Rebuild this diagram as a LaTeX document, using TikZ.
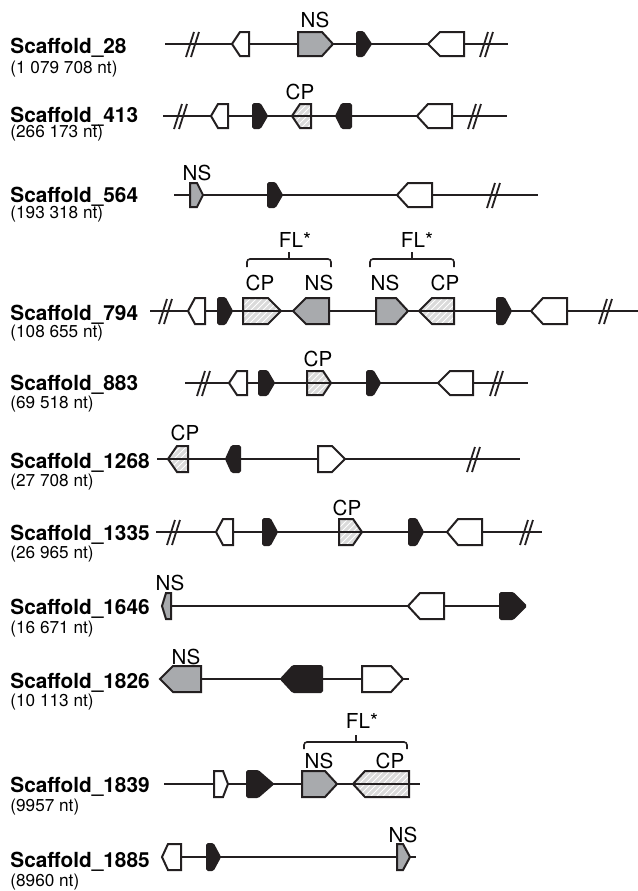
\documentclass[tikz,border=0pt]{standalone}
\usepackage{fontspec}
\setmainfont{TeX Gyre Heros}
\usetikzlibrary{positioning, patterns}
\definecolor{ink}{RGB}{35,31,32}
\definecolor{nsgray}{RGB}{168,170,173}
\definecolor{cpgray}{RGB}{218,218,218}

\begin{document}
\begin{tikzpicture}[x=0.5pt, y=-0.5pt,
    scaf/.style={font=\fontsize{10.4}{12}\selectfont\bfseries, inner sep=0pt, anchor=base west},
    len/.style={font=\fontsize{8.6}{10}\selectfont, inner sep=0pt, anchor=base west},
    tag/.style={font=\fontsize{10.3}{12}\selectfont, inner sep=0pt},
    dna/.style={draw=ink, line width=1pt},
    cut/.style={draw=ink, line width=0.9pt},
    brace/.style={draw=ink, line width=0.8pt, rounded corners=1.5pt},
    gene/.style={draw=ink, line width=1pt, line join=miter},
    plain/.style={gene, fill=white},
    ns/.style={gene, fill=nsgray},
    orf/.style={gene, fill=ink, rounded corners=0.6pt},
    cp/.style={gene, preaction={fill=cpgray}, pattern=north east lines, pattern color=white}]

    \useasboundingbox (0,0) rectangle (638,891);

    % scaffold names and lengths
    \node[scaf] (n28) at (10,53) {Scaffold\_28};
    \node[len, below=10pt of n28.base west, anchor=base west] (l28) {(1 079 708 nt)};
    \node[scaf] (n413) at (10,122) {Scaffold\_413};
    \node[len, below=7.5pt of n413.base west, anchor=base west] (l413) {(266 173 nt)};
    \node[scaf] (n564) at (10,202) {Scaffold\_564};
    \node[len, below=8pt of n564.base west, anchor=base west] (l564) {(193 318 nt)};
    \node[scaf] (n794) at (10,320) {Scaffold\_794};
    \node[len, below=8.5pt of n794.base west, anchor=base west] (l794) {(108 655 nt)};
    \node[scaf] (n883) at (10,390) {Scaffold\_883};
    \node[len, below=9pt of n883.base west, anchor=base west] (l883) {(69 518 nt)};
    \node[scaf] (n1268) at (10,468) {Scaffold\_1268};
    \node[len, below=9pt of n1268.base west, anchor=base west] (l1268) {(27 708 nt)};
    \node[scaf] (n1335) at (10,540) {Scaffold\_1335};
    \node[len, below=9pt of n1335.base west, anchor=base west] (l1335) {(26 965 nt)};
    \node[scaf] (n1646) at (10,614) {Scaffold\_1646};
    \node[len, below=9.5pt of n1646.base west, anchor=base west] (l1646) {(16 671 nt)};
    \node[scaf] (n1826) at (10,688) {Scaffold\_1826};
    \node[len, below=9pt of n1826.base west, anchor=base west] (l1826) {(10 113 nt)};
    \node[scaf] (n1839) at (10,792) {Scaffold\_1839};
    \node[len, below=9.5pt of n1839.base west, anchor=base west] (l1839) {(9957 nt)};
    \node[scaf] (n1885) at (10,867) {Scaffold\_1885};
    \node[len, below=9.5pt of n1885.base west, anchor=base west] (l1885) {(8960 nt)};

    % hatched genes go under the line
    \foreach \t/\s/\b/\y/\h in {292/300/311/116/12, 281/268/243/311/13, 419/432/454/311/13,
            331/323/307/383/12, 168/177/188/459/13, 362/353/339/532/13, 353/365/409/784/13}
        \draw[cp] (\t,\y) -- (\s,\y-\h) -- (\b,\y-\h) -- (\b,\y+\h) -- (\s,\y+\h) -- cycle;

    % backbones
    \foreach \a/\e/\y in {165/508/44, 163/507/116, 174/538/195, 150/638/311, 185/528/383,
            157/520/459, 156/542/532, 162/500/606, 160/409/679, 164/420/784, 162/416/857}
        \draw[dna] (\a,\y) -- (\e,\y);

    % breaks
    \foreach \c/\y in {192/44, 486/44, 180/116, 474/116, 493/195, 165/311, 605/311,
            203/383, 496/383, 473/459, 173/532, 526/532}
    {
        \draw[cut] (\c-6,\y+13) -- (\c+2,\y-12);
        \draw[cut] (\c-1,\y+13) -- (\c+7,\y-12);
    }

    % open genes
    \foreach \t/\s/\b/\y/\h in {232/240/249/44/12, 428/440/464/44/12, 211/218/228/116/12,
            417/428/452/116/12, 397/408/432/195/12, 188/195/205/311/13, 531/543/567/311/13,
            229/237/247/383/12, 438/450/473/383/12, 345/332/318/459/13, 216/223/233/532/13,
            447/458/482/532/13, 408/420/444/606/13, 403/391/362/679/13, 228/223/214/784/13,
            162/168/181/857/13}
        \draw[plain] (\t,\y) -- (\s,\y-\h) -- (\b,\y-\h) -- (\b,\y+\h) -- (\s,\y+\h) -- cycle;

    % NS genes
    \foreach \t/\s/\b/\y/\h in {333/322/298/44/12, 203/197/190/195/12, 293/306/329/311/13,
            408/396/376/311/13, 162/166/171/606/13, 160/173/201/679/13, 337/325/302/784/13,
            410/403/397/857/13}
        \draw[ns] (\t,\y) -- (\s,\y-\h) -- (\b,\y-\h) -- (\b,\y+\h) -- (\s,\y+\h) -- cycle;

    % filled genes
    \foreach \t/\s/\b/\y/\h in {371/363/357/44/12, 267/260/253/116/12, 336/342/351/116/12,
            282/275/268/195/12, 232/225/218/311/13, 511/504/497/311/13, 274/267/259/383/12,
            380/373/367/383/12, 226/232/240/459/13, 277/270/263/532/13, 423/416/409/532/13,
            526/513/500/606/13, 281/293/322/679/13, 273/258/247/784/13, 220/213/207/857/13}
        \draw[orf] (\t,\y) -- (\s,\y-\h) -- (\b,\y-\h) -- (\b,\y+\h) -- (\s,\y+\h) -- cycle;

    % gene tags
    \node[tag] (ns28) at (315,20) {NS};
    \node[tag] (cp413) at (300,92) {CP};
    \node[tag] (ns564) at (197,173) {NS};
    \node[tag] (cp794a) at (260,283) {CP};
    \node[tag] (ns794a) at (319,283) {NS};
    \node[tag] (ns794b) at (385,283) {NS};
    \node[tag] (cp794b) at (445,283) {CP};
    \node[tag] (cp883) at (318,359) {CP};
    \node[tag] (cp1268) at (185,433) {CP};
    \node[tag] (cp1335) at (347,508) {CP};
    \node[tag] (ns1646) at (170,583) {NS};
    \node[tag] (ns1826) at (186,657) {NS};
    \node[tag] (ns1839) at (319,761) {NS};
    \node[tag] (cp1839) at (390,761) {CP};
    \node[tag] (ns1885) at (403,835) {NS};

    % FL* brackets
    \draw[brace] (247,267) -- (247,259) -- (331,259) -- (331,267);
    \draw[brace] (289,259) -- (289,252);
    \node[tag] (fl794a) at (295,240) {FL*};
    \draw[brace] (370,267) -- (370,259) -- (454,259) -- (454,267);
    \draw[brace] (412,259) -- (412,252);
    \node[tag] (fl794b) at (417,240) {FL*};
    \draw[brace] (304,749) -- (304,742) -- (407,742) -- (407,749);
    \draw[brace] (356,742) -- (356,735);
    \node[tag] (fl1839) at (362,721) {FL*};

\end{tikzpicture}
\end{document}
